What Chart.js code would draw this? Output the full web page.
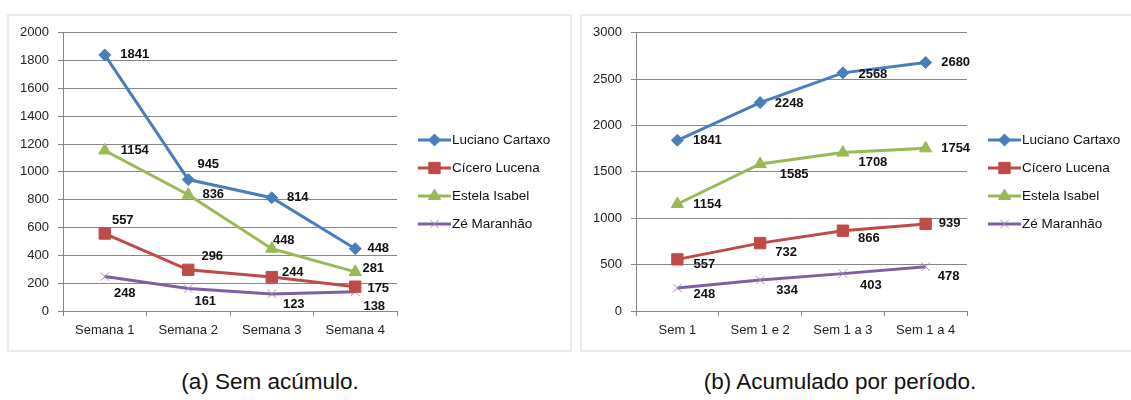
<!DOCTYPE html>
<html>
<head>
<meta charset="utf-8">
<script src="https://cdn.jsdelivr.net/npm/chart.js@4"></script>
<style>
  body { margin: 0; background: #fff; width: 1131px; height: 400px; position: relative; overflow: hidden;
         font-family: "Liberation Sans", Arial, sans-serif; }
  .box { position: absolute; top: 14px; border: 2px solid #ebebeb; background: #fff; }
  #boxA { left: 7px; width: 561px; height: 334px; }
  #boxB { left: 580px; width: 551px; height: 334px; }
  .box canvas { display: block; }
  .cap { position: absolute; top: 369px; font-size: 22.5px; color: #111; text-align: center; width: 500px; }
  #capA { left: 20px; }
  #capB { left: 590px; }
</style>
</head>
<body>
<div class="box" id="boxA"><canvas id="chartA" width="561" height="334"></canvas></div>
<div class="box" id="boxB"><canvas id="chartB" width="551" height="334"></canvas></div>
<div class="cap" id="capA">(a) Sem acúmulo.</div>
<div class="cap" id="capB">(b) Acumulado por período.</div>
<script>
// candidatos
const candidatos = ['Luciano Cartaxo', 'Cícero Lucena', 'Estela Isabel', 'Zé Maranhão'];

// (a) votos por semana
const semanas = ['Semana 1', 'Semana 2', 'Semana 3', 'Semana 4'];
const lucianoSemana = [1841, 945, 814, 448];
const ciceroSemana = [557, 296, 244, 175];
const estelaSemana = [1154, 836, 448, 281];
const zeSemana = [248, 161, 123, 138];
const eixoA = { max: 2000, passo: 200 };

// (b) acumulado
const periodos = ['Sem 1', 'Sem 1 e 2', 'Sem 1 a 3', 'Sem 1 a 4'];
const lucianoAcum = [1841, 2248, 2568, 2680];
const ciceroAcum = [557, 732, 866, 939];
const estelaAcum = [1154, 1585, 1708, 1754];
const zeAcum = [248, 334, 403, 478];
const eixoB = { max: 3000, passo: 500 };

// estilo das séries (cores do Excel)
const estilos = [
  { cor: '#4a7ebb', marcador: 'rectRot', raio: 6, borda: 1 },
  { cor: '#be4b48', marcador: 'rect', raio: 8, borda: 1 },
  { cor: '#98b954', marcador: 'triangle', raio: 7, borda: 1 },
  { cor: '#7d60a0', marcador: 'crossRot', raio: 6, borda: 1, corMarcador: '#a08cc0' }
];

const fonte = '"Liberation Sans", Arial, sans-serif';

// rótulos de valor ao lado de cada ponto
const rotulos = {
  id: 'rotulos',
  afterDatasetsDraw(chart, args, opts) {
    const ctx = chart.ctx;
    ctx.save();
    ctx.font = 'bold 13px ' + fonte;
    ctx.fillStyle = '#111';
    ctx.textAlign = 'center';
    ctx.textBaseline = 'middle';
    chart.data.datasets.forEach((ds, i) => {
      chart.getDatasetMeta(i).data.forEach((pt, j) => {
        const d = opts.desloc[i][j];
        ctx.fillText(String(ds.data[j]), pt.x + d[0], pt.y + d[1]);
      });
    });
    ctx.restore();
  }
};

// legenda no estilo Excel: linha com marcador no meio
const legenda = {
  id: 'legenda',
  afterDraw(chart) {
    const ctx = chart.ctx;
    const x0 = chart.chartArea.right + 21;
    const gap = 28;
    const n = chart.data.datasets.length;
    const y0 = chart.height / 2 - gap * (n - 1) / 2 - 1;
    ctx.save();
    chart.data.datasets.forEach((ds, i) => {
      const y = y0 + i * gap;
      ctx.strokeStyle = ds.borderColor;
      ctx.lineWidth = 3;
      ctx.beginPath();
      ctx.moveTo(x0, y);
      ctx.lineTo(x0 + 33, y);
      ctx.stroke();
      ctx.fillStyle = ds.pointBackgroundColor;
      ctx.strokeStyle = ds.pointBorderColor;
      ctx.lineWidth = ds.pointBorderWidth;
      Chart.helpers.drawPoint(ctx, { pointStyle: ds.pointStyle, radius: ds.pointRadius, rotation: 0, borderWidth: ds.pointBorderWidth }, x0 + 16.5, y);
      ctx.fillStyle = '#111';
      ctx.font = '13.5px ' + fonte;
      ctx.textBaseline = 'middle';
      ctx.fillText(ds.label, x0 + 34, y);
    });
    ctx.restore();
  }
};

function series(valores) {
  return valores.map((v, i) => {
    const e = estilos[i];
    return {
      label: candidatos[i],
      data: v,
      borderColor: e.cor,
      borderWidth: 3,
      tension: 0,
      pointStyle: e.marcador,
      pointRadius: e.raio,
      pointHoverRadius: e.raio,
      pointBackgroundColor: e.corMarcador || e.cor,
      pointBorderColor: e.corMarcador || e.cor,
      pointBorderWidth: e.borda
    };
  });
}

function grafico(id, categorias, valores, eixo, direita, desloc) {
  return new Chart(document.getElementById(id), {
    type: 'line',
    data: { labels: categorias, datasets: series(valores) },
    options: {
      responsive: false,
      animation: false,
      layout: { padding: { left: 0, top: 13, right: direita, bottom: 0 } },
      plugins: {
        legend: { display: false },
        tooltip: { enabled: false },
        rotulos: { desloc: desloc }
      },
      scales: {
        x: {
          offset: true,
          grid: { offset: true, drawOnChartArea: false, drawTicks: true, tickLength: 5, color: '#868686' },
          border: { color: '#868686', width: 1 },
          ticks: { font: { family: fonte, size: 13 }, color: '#222', padding: 7, maxRotation: 0 },
          afterFit(s) { s.height = 39; }
        },
        y: {
          min: 0, max: eixo.max,
          grid: { color: '#868686', tickLength: 5 },
          border: { color: '#868686', width: 1 },
          ticks: { stepSize: eixo.passo, font: { family: fonte, size: 13 }, color: '#222', padding: 9,
                   callback: v => String(v) },
          afterFit(s) { s.width = 54; }
        }
      }
    },
    plugins: [rotulos, legenda]
  });
}

grafico('chartA', semanas, [lucianoSemana, ciceroSemana, estelaSemana, zeSemana], eixoA, 173, [
  [[30, 0], [20, -15], [26, 0], [23, 0]],
  [[18, -13], [24, -13], [21, -5], [23, 2]],
  [[30, 0], [25, 0], [12, -8], [18, -3]],
  [[20, 17], [17, 13], [22, 11], [19, 15]]
]);

grafico('chartB', periodos, [lucianoAcum, ciceroAcum, estelaAcum, zeAcum], eixoB, 166, [
  [[30, 0], [29, 1], [30, 2], [30, 0]],
  [[27, 5], [26, 9], [26, 8], [24, -1]],
  [[30, 0], [34, 10], [30, 10], [30, 0]],
  [[27, 6], [27, 10], [28, 12], [23, 10]]
]);
</script>
</body>
</html>
